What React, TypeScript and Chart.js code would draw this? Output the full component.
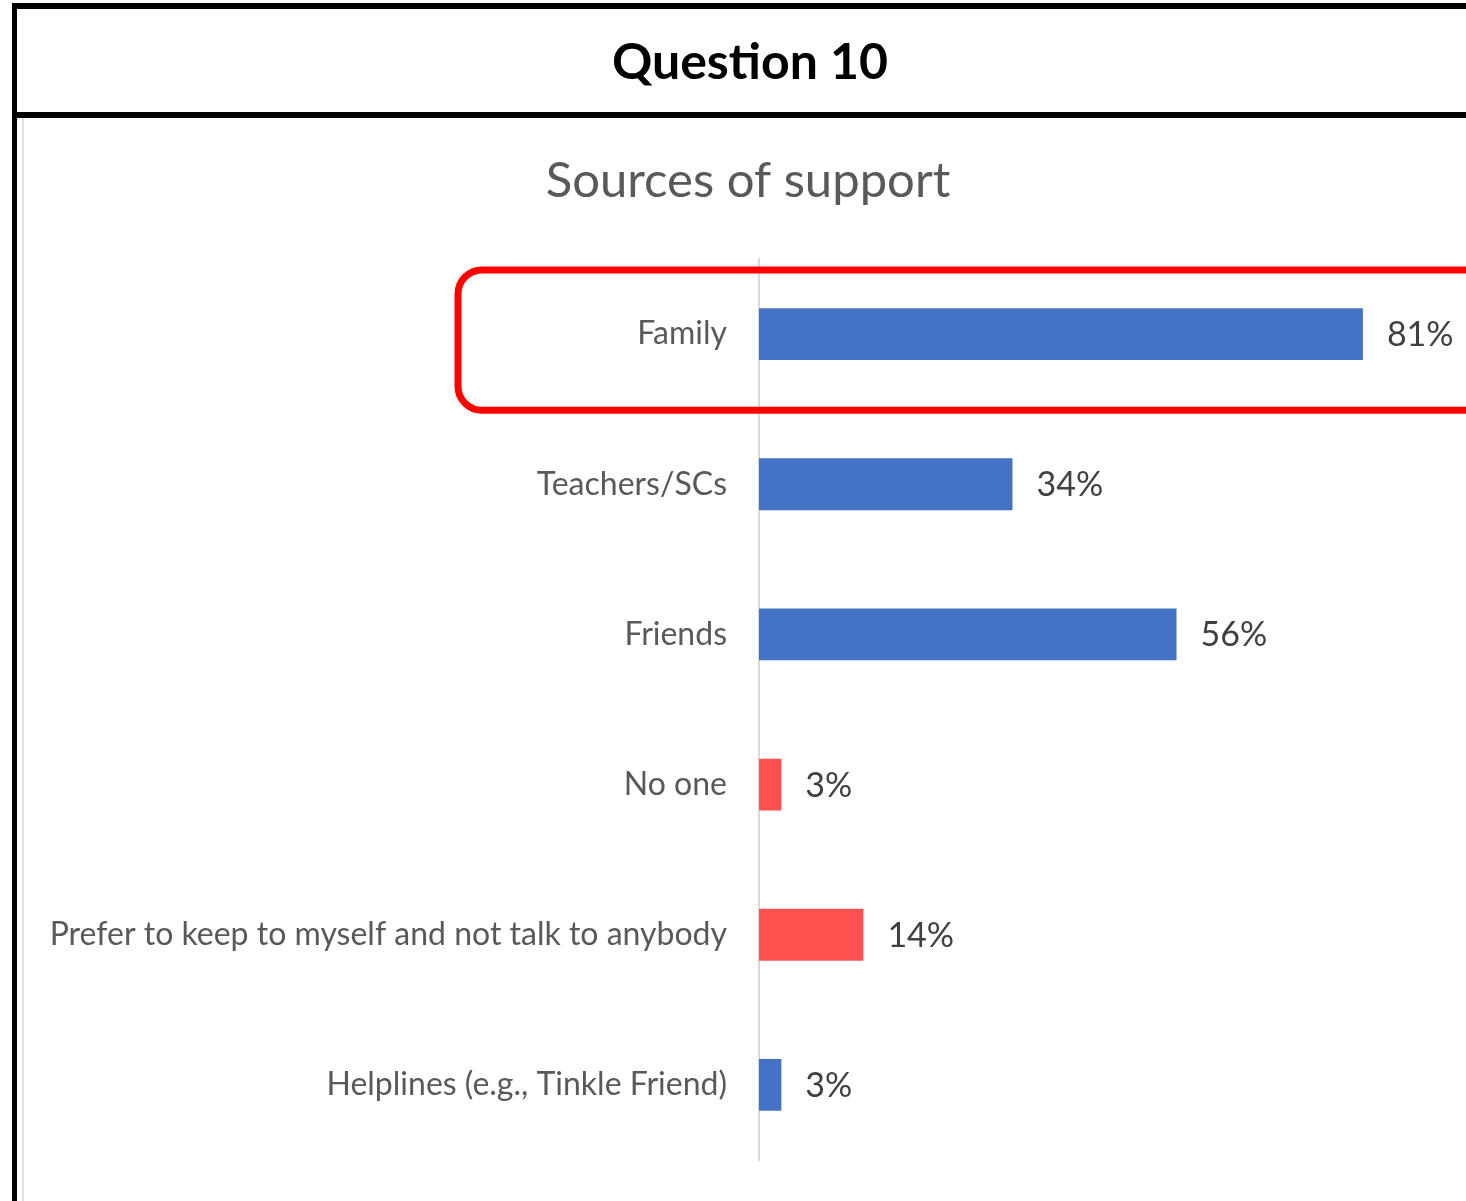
import React, { useEffect, useRef } from "react";
import { Chart, registerables } from "chart.js";

Chart.register(...registerables);

const headerText = "Question 10";
const chartTitle = "Sources of support";
const categories = [
  "Family",
  "Teachers/SCs",
  "Friends",
  "No one",
  "Prefer to keep to myself and not talk to anybody",
  "Helplines (e.g., Tinkle Friend)",
];
const values = [81, 34, 56, 3, 14, 3];
const barColors = ["#4472C4", "#4472C4", "#4472C4", "#FF5050", "#FF5050", "#4472C4"];
const highlightIndex = 0;
const xMax = 90;

const FONT = "Lato, 'Open Sans', sans-serif";

const titlePlugin = {
  id: "centerTitle",
  afterDraw(chart: any) {
    const ctx = chart.ctx;
    ctx.save();
    ctx.font = `49px ${FONT}`;
    ctx.fillStyle = "#595959";
    ctx.textAlign = "center";
    ctx.textBaseline = "middle";
    ctx.fillText(chartTitle, chart.width / 2, 63);
    ctx.restore();
  },
};

const dataLabelPlugin = {
  id: "dataLabels",
  afterDatasetsDraw(chart: any) {
    const ctx = chart.ctx;
    const meta = chart.getDatasetMeta(0);
    ctx.save();
    ctx.font = `34px ${FONT}`;
    ctx.fillStyle = "#404040";
    ctx.textAlign = "left";
    ctx.textBaseline = "middle";
    meta.data.forEach((bar: any, i: number) => {
      ctx.fillText(`${values[i]}%`, bar.x + 24, bar.y + 1);
    });
    ctx.restore();
  },
};

const highlightPlugin = {
  id: "highlight",
  afterDraw(chart: any) {
    const ctx = chart.ctx;
    const yScale = chart.scales.y;
    const band = yScale.getPixelForValue(1) - yScale.getPixelForValue(0);
    const cy = yScale.getPixelForValue(highlightIndex);
    const top = cy - band * 0.427;
    const bottom = cy + band * 0.507;
    const left = 436;
    const right = chart.width + 40;
    const r = 24;
    ctx.save();
    ctx.strokeStyle = "#FF0000";
    ctx.lineWidth = 7;
    ctx.beginPath();
    ctx.moveTo(left + r, top);
    ctx.lineTo(right, top);
    ctx.lineTo(right, bottom);
    ctx.lineTo(left + r, bottom);
    ctx.arcTo(left, bottom, left, bottom - r, r);
    ctx.lineTo(left, top + r);
    ctx.arcTo(left, top, left + r, top, r);
    ctx.closePath();
    ctx.stroke();
    ctx.restore();
  },
};

function SupportChart() {
  const ref = useRef<HTMLCanvasElement | null>(null);
  useEffect(() => {
    if (!ref.current) return;
    const chart = new Chart(ref.current, {
      type: "bar",
      data: {
        labels: categories,
        datasets: [
          {
            data: values,
            backgroundColor: barColors,
            borderWidth: 0,
            barPercentage: 0.345,
            categoryPercentage: 1,
          },
        ],
      },
      options: {
        indexAxis: "y",
        responsive: false,
        animation: false,
        layout: { padding: { left: 0, right: 44, top: 141, bottom: 41 } },
        plugins: {
          legend: { display: false },
          tooltip: { enabled: false },
          title: { display: false },
        },
        scales: {
          x: { display: false, min: 0, max: xMax },
          y: {
            afterFit(scale: any) {
              scale.width = 737;
              scale.paddingTop = 0;
              scale.paddingBottom = 0;
            },
            grid: { display: false, drawTicks: false },
            border: { display: true, color: "#D9D9D9", width: 2 },
            ticks: {
              padding: 32,
              color: "#595959",
              font: { family: FONT, size: 32 },
              autoSkip: false,
            },
          },
        },
      },
      plugins: [titlePlugin, dataLabelPlugin, highlightPlugin],
    });
    return () => chart.destroy();
  }, []);
  return (
    <canvas
      ref={ref}
      width={1452}
      height={1083}
      style={{ position: "absolute", left: 22, top: 118, width: 1452, height: 1083 }}
    />
  );
}

export default function App() {
  return (
    <div
      style={{
        position: "absolute",
        left: 0,
        top: 0,
        width: 1466,
        height: 1201,
        overflow: "hidden",
        background: "#ffffff",
      }}
    >
      <div style={{ position: "absolute", left: 22, top: 118, width: 2, height: 1100, background: "#E3E3E3" }} />
      <SupportChart />
      <div style={{ position: "absolute", left: 12, top: 3, width: 1600, height: 6, background: "#000" }} />
      <div style={{ position: "absolute", left: 12, top: 112, width: 1600, height: 6, background: "#000" }} />
      <div style={{ position: "absolute", left: 12, top: 3, width: 5, height: 1250, background: "#000" }} />
      <div
        style={{
          position: "absolute",
          left: 17,
          top: 9,
          width: 1466,
          height: 103,
          lineHeight: "103px",
          textAlign: "center",
          fontFamily: FONT,
          fontWeight: 700,
          fontSize: 50,
          color: "#000",
        }}
      >
        {headerText}
      </div>
    </div>
  );
}
